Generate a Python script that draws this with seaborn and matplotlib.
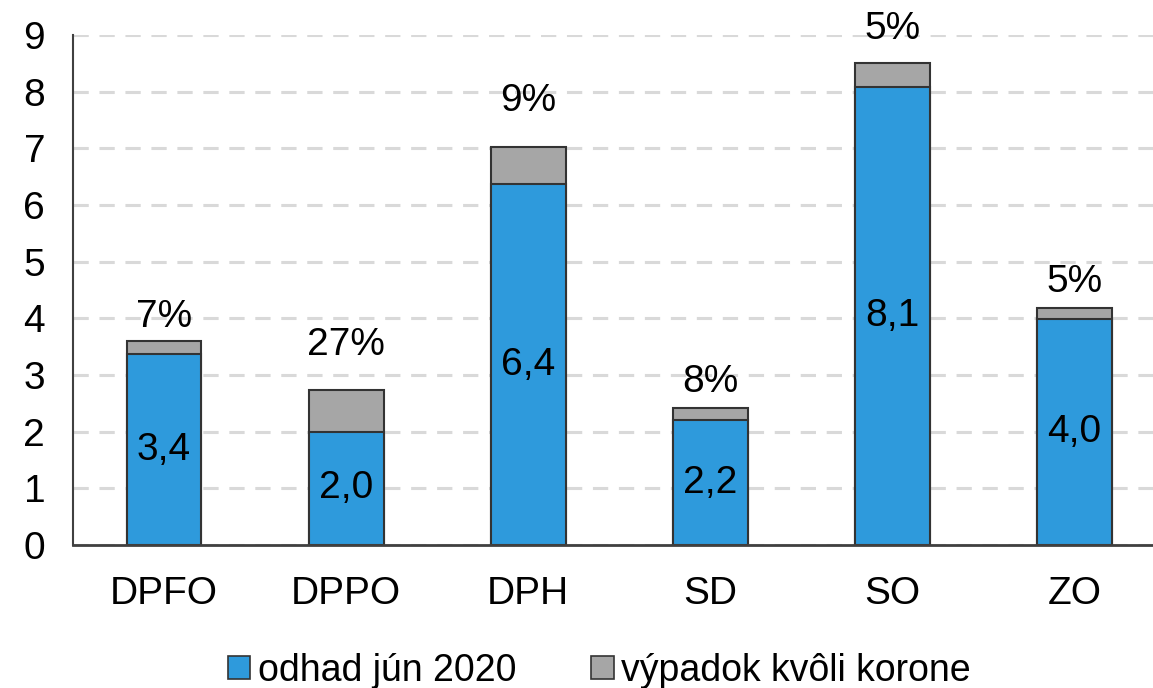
import numpy as np
import pandas as pd
import matplotlib
matplotlib.use("Agg")
import matplotlib.pyplot as plt
import seaborn as sns

categories = ["DPFO", "DPPO", "DPH", "SD", "SO", "ZO"]
estimate = [3.37, 2.0, 6.37, 2.2, 8.08, 3.98]
loss = [0.23, 0.73, 0.66, 0.22, 0.42, 0.2]
estimate_labels = ["3,4", "2,0", "6,4", "2,2", "8,1", "4,0"]
loss_labels = ["7%", "27%", "9%", "8%", "5%", "5%"]
series_names = ["odhad jún 2020", "výpadok kvôli korone"]

blue = "#2E9ADC"
gray = "#A6A6A6"

sns.set_style("white")
plt.rcParams["font.family"] = ["Liberation Sans", "DejaVu Sans"]
plt.rcParams["text.color"] = "black"
plt.rcParams["xtick.color"] = "black"
plt.rcParams["ytick.color"] = "black"

df = pd.DataFrame({"cat": categories, "estimate": estimate, "loss": loss})
df["total"] = df["estimate"] + df["loss"]

fig = plt.figure(figsize=(11.53, 6.88), dpi=100)
ax = fig.add_axes([0.0633, 0.2078, 0.9367, 0.7413])

ax.set_axisbelow(True)
ax.yaxis.grid(True, color="#D9D9D9", linestyle=(0, (5, 3.5)), linewidth=2.2)

sns.barplot(data=df, x="cat", y="total", color=gray, saturation=1, width=0.41,
            edgecolor="#333333", linewidth=1.5, ax=ax)
sns.barplot(data=df, x="cat", y="estimate", color=blue, saturation=1, width=0.41,
            edgecolor="#333333", linewidth=1.5, ax=ax)

top_bars = ax.containers[0]
blue_bars = ax.containers[1]
# label gaps above the bars differ a bit in the original
gaps = [0, 16, 16, 2, 8, 2]
for bar, lab, g in zip(top_bars, loss_labels, gaps):
    ax.annotate(lab, (bar.get_x() + bar.get_width() / 2, bar.get_height()),
                xytext=(0, 4 + g), textcoords="offset points",
                ha="center", va="bottom", fontsize=28, color="black")
ax.bar_label(blue_bars, labels=estimate_labels, label_type="center", fontsize=28, color="black")

ax.set_ylim(0, 9)
ax.set_xlim(-0.5, 5.43)
ax.set_yticks(range(0, 10))
ax.set_xlabel("")
ax.set_ylabel("")
ax.tick_params(axis="y", length=0, pad=20, labelsize=28, labelcolor="black")
ax.tick_params(axis="x", length=0, pad=22, labelsize=28, labelcolor="black")

for side in ["top", "right"]:
    ax.spines[side].set_visible(False)
ax.spines["left"].set_color("#404040")
ax.spines["left"].set_linewidth(1.5)
ax.spines["bottom"].set_color("#404040")
ax.spines["bottom"].set_linewidth(2)

handles = [plt.Rectangle((0, 0), 1, 1, facecolor=blue, edgecolor="#333333", linewidth=1.2),
           plt.Rectangle((0, 0), 1, 1, facecolor=gray, edgecolor="#333333", linewidth=1.2)]
fig.legend(handles, series_names, loc="lower center", bbox_to_anchor=(0.52, -0.05),
           ncol=2, frameon=False, fontsize=27, handlelength=0.6, handleheight=0.6,
           handletextpad=0.2, columnspacing=2.0, labelcolor="black")

fig.savefig("out.png", dpi=100)
